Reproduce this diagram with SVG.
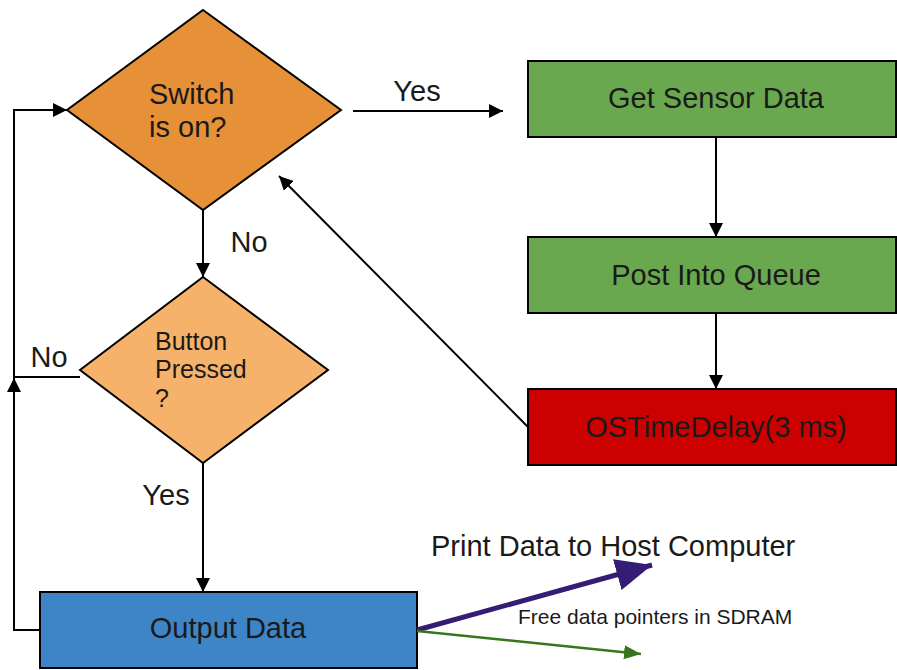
<svg xmlns="http://www.w3.org/2000/svg" width="897" height="670" viewBox="0 0 897 670">
<style>
text{font-family:"Liberation Sans",Arial,sans-serif;fill:#1a1a1a}
.shape{stroke:#000;stroke-width:2}
.conn{fill:none;stroke:#000;stroke-width:2}
.lbl{font-size:29px}
</style>
<defs>
<marker id="ah" markerUnits="userSpaceOnUse" markerWidth="16" markerHeight="14" refX="14" refY="7" orient="auto">
<path d="M0,0 L14,7 L0,14 Z" fill="#000"/>
</marker>
<marker id="ahp" markerUnits="userSpaceOnUse" markerWidth="38" markerHeight="32" refX="36" refY="16" orient="auto">
<path d="M0,0 L36,16 L0,32 Z" fill="#351c75"/>
</marker>
<marker id="ahg" markerUnits="userSpaceOnUse" markerWidth="18" markerHeight="14" refX="17" refY="7" orient="auto">
<path d="M0,0 L17,7 L0,14 Z" fill="#38761d"/>
</marker>
</defs>
<rect width="897" height="670" fill="#fff"/>

<g id="switch">
<polygon class="shape" points="203,10 341,110 203,210 67,110" fill="#e69138"/>
<text class="lbl" x="149" y="104">Switch</text>
<text class="lbl" x="149" y="137">is on?</text>
</g>

<g id="button">
<polygon class="shape" points="203,277 328,370 203,463 80,370" fill="#f6b26b"/>
<text x="155" y="350" font-size="25">Button</text>
<text x="155" y="378" font-size="25">Pressed</text>
<text x="155" y="407" font-size="25">?</text>
</g>

<g id="output">
<rect class="shape" x="40" y="592" width="377" height="76" fill="#3d85c6"/>
<text class="lbl" x="228" y="638" text-anchor="middle">Output Data</text>
</g>

<g id="sensor">
<rect class="shape" x="528" y="61" width="368" height="76" fill="#6aa84f"/>
<text class="lbl" x="716" y="108" text-anchor="middle">Get Sensor Data</text>
</g>

<g id="queue">
<rect class="shape" x="528" y="237" width="368" height="76" fill="#6aa84f"/>
<text class="lbl" x="716" y="285" text-anchor="middle">Post Into Queue</text>
</g>

<g id="delay">
<rect class="shape" x="528" y="389" width="368" height="76" fill="#cc0000"/>
<text class="lbl" x="716" y="437" text-anchor="middle">OSTimeDelay(3 ms)</text>
</g>

<g id="connectors">
<path class="conn" d="M353,111 L503,111" marker-end="url(#ah)"/>
<text class="lbl" x="417" y="101" text-anchor="middle">Yes</text>
<path class="conn" d="M716,137 L716,237" marker-end="url(#ah)"/>
<path class="conn" d="M716,313 L716,389" marker-end="url(#ah)"/>
<path class="conn" d="M528,427 L279,176" marker-end="url(#ah)"/>
<path class="conn" d="M203,210 L203,277" marker-end="url(#ah)"/>
<text class="lbl" x="249" y="252" text-anchor="middle">No</text>
<path class="conn" d="M203,463 L203,592" marker-end="url(#ah)"/>
<text class="lbl" x="166" y="505" text-anchor="middle">Yes</text>
<path class="conn" d="M80,377 L14,377 L14,110 L67,110" marker-end="url(#ah)"/>
<text class="lbl" x="49" y="367" text-anchor="middle">No</text>
<path class="conn" d="M40,630 L14,630 L14,378" marker-end="url(#ah)"/>
<path d="M417,630 L652,565" fill="none" stroke="#351c75" stroke-width="5" marker-end="url(#ahp)"/>
<text x="431" y="556" font-size="29">Print Data to Host Computer</text>
<path d="M417,631 L641,654" fill="none" stroke="#38761d" stroke-width="2.5" marker-end="url(#ahg)"/>
<text x="518" y="624" font-size="21">Free data pointers in SDRAM</text>
</g>
</svg>
